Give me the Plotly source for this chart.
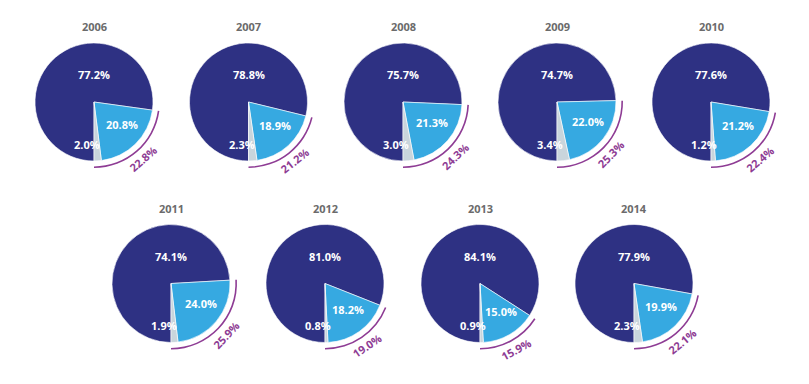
import math
import plotly.graph_objects as go

years = ["2006", "2007", "2008", "2009", "2010", "2011", "2012", "2013", "2014"]
navy_share = [77.2, 78.8, 75.7, 74.7, 77.6, 74.1, 81.0, 84.1, 77.9]
blue_share = [20.8, 18.9, 21.3, 22.0, 21.2, 24.0, 18.2, 15.0, 19.9]
gray_share = [2.0, 2.3, 3.0, 3.4, 1.2, 1.9, 0.8, 0.9, 2.3]
arc_share = [22.8, 21.2, 24.3, 25.3, 22.4, 25.9, 19.0, 15.9, 22.1]

W, H = 809, 384
OFF = 8  # page body margin
R = 59
centers = [(94, 102), (248.5, 102), (403, 102), (557, 102), (711, 102),
           (171, 283.5), (325, 283.5), (480, 283.5), (634, 283.5)]

NAVY = "#2E3183"
BLUE = "#36A9E1"
GRAY = "#C9D5DC"
PURPLE = "#8E3C94"
TITLE = "#6B6B6B"
FONT = "Open Sans"


def dom(cx, cy, r):
    cx -= OFF
    cy -= OFF
    return dict(x=[(cx - r) / W, (cx + r) / W], y=[1 - (cy + r) / H, 1 - (cy - r) / H])


def to_paper(px, py):
    return (px - OFF) / W, 1 - (py - OFF) / H


def ann(px, py, text, color, size=11, angle=0, xanchor="center"):
    x, y = to_paper(px, py)
    return dict(x=x, y=y, xref="paper", yref="paper", showarrow=False,
                xanchor=xanchor, yanchor="middle", textangle=angle,
                text=f"<b>{text}</b>", font=dict(family=FONT, size=size, color=color))


fig = go.Figure()
annotations = []
for i, yr in enumerate(years):
    cx, cy = centers[i]
    fig.add_trace(go.Pie(
        values=[navy_share[i], blue_share[i], gray_share[i]],
        labels=["a", "b", "c"],
        marker=dict(colors=[NAVY, BLUE, GRAY], line=dict(color="white", width=0.6)),
        sort=False, direction="clockwise", rotation=180,
        textinfo="none", hoverinfo="skip", showlegend=False,
        domain=dom(cx, cy, R),
    ))
    r_out, r_in = 66, 64.4
    fig.add_trace(go.Pie(
        values=[navy_share[i], arc_share[i]],
        labels=["x", "y"],
        marker=dict(colors=["rgba(0,0,0,0)", PURPLE], line=dict(width=0)),
        hole=r_in / r_out,
        sort=False, direction="clockwise", rotation=180,
        textinfo="none", hoverinfo="skip", showlegend=False,
        domain=dom(cx, cy, r_out),
    ))
    annotations.append(ann(cx, cy - 75, yr, TITLE))
    annotations.append(ann(cx, cy - 27, f"{navy_share[i]:.1f}%", "white"))
    ang = 180 - (gray_share[i] + blue_share[i] / 2) * 3.6
    rr = 35
    bx = cx + rr * math.sin(math.radians(ang)) + 3
    by = cy - rr * math.cos(math.radians(ang)) - 2
    annotations.append(ann(bx, by, f"{blue_share[i]:.1f}%", "white"))
    annotations.append(ann(cx + 8, cy + 42, f"{gray_share[i]:.1f}%", "white", xanchor="right"))
    ang = 180 - arc_share[i] / 2 * 3.6
    rr = 75
    px_ = cx + rr * math.sin(math.radians(ang))
    py_ = cy - rr * math.cos(math.radians(ang))
    annotations.append(ann(px_, py_, f"{arc_share[i]:.1f}%", PURPLE, angle=-(180 - ang)))

fig.update_layout(
    width=W, height=H,
    margin=dict(l=0, r=0, t=0, b=0),
    paper_bgcolor="white", plot_bgcolor="white",
    showlegend=False,
    annotations=annotations,
)
fig.write_html("out.html")
